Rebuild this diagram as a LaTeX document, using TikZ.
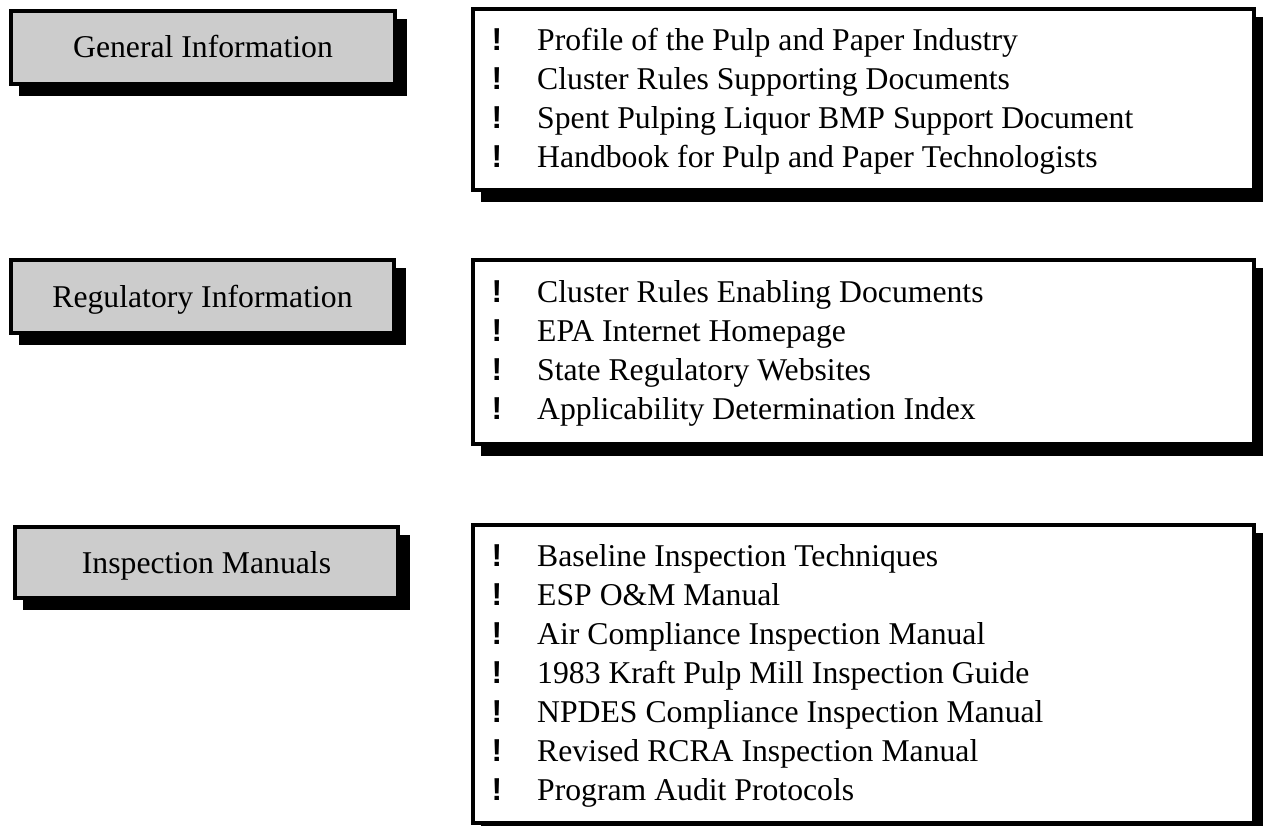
\documentclass[tikz,border=0pt]{standalone}
\usepackage{fontspec}
\setmainfont{Liberation Serif}
\newfontfamily\bulletfont{Liberation Sans}
\usetikzlibrary{backgrounds}
\definecolor{boxgray}{HTML}{CCCCCC}
\begin{document}
\begin{tikzpicture}[x=1pt,y=-1pt,
  every node/.style={font=\fontsize{31.7}{38}\selectfont},
  catbox/.style={draw=black, line width=4pt, fill=boxgray, inner sep=0pt,
    text height=21pt, text depth=0pt},
  listbox/.style={draw=black, line width=4pt, fill=white, inner sep=0pt},
  bul/.style={anchor=base, inner sep=0pt, font=\fontsize{31.7}{38}\selectfont\bulletfont\bfseries},
  item/.style={anchor=base west, inner sep=0pt},
  shadowfill/.style={fill=black}
]
\useasboundingbox (0,0) rectangle (1263,826);

% category boxes
\node[catbox, minimum width=384pt, minimum height=73pt] (g) at (203,47.5) {General Information};
\node[catbox, minimum width=383pt, minimum height=73pt] (r) at (202.5,296.5) {Regulatory Information};
\node[catbox, minimum width=383pt, minimum height=71pt] (i) at (206.5,562.5) {Inspection Manuals};

% list boxes
\node[listbox, minimum width=781pt, minimum height=181pt] (ga) at (863.5,99.5) {};
\node[listbox, minimum width=781pt, minimum height=184pt] (rb) at (863.5,352) {};
\node[listbox, minimum width=781pt, minimum height=298pt] (ic) at (863.5,674) {};

\begin{scope}[on background layer]
  \foreach \b in {g,r,i,ga,rb,ic}{
    \fill[shadowfill] ([shift={(10,10)}]\b.north west) rectangle ([shift={(10,10)}]\b.south east);
  }
\end{scope}

% General information items
\foreach \y/\t [count=\k] in {50.5/Profile of the Pulp and Paper Industry,
  89.5/Cluster Rules Supporting Documents,
  128.5/Spent Pulping Liquor BMP Support Document,
  167.5/Handbook for Pulp and Paper Technologists}{
  \node[bul] (gb\k) at (497,\y) {!};
  \node[item] (gt\k) at (537,\y) {\t};
}

% Regulatory items
\foreach \y/\t [count=\k] in {302.5/Cluster Rules Enabling Documents,
  341.5/EPA Internet Homepage,
  380.5/State Regulatory Websites,
  419.5/Applicability Determination Index}{
  \node[bul] (rb\k) at (497,\y) {!};
  \node[item] (rt\k) at (537,\y) {\t};
}

% Inspection items
\foreach \y/\t [count=\k] in {566.5/Baseline Inspection Techniques,
  605.5/ESP O\&M Manual,
  644.5/Air Compliance Inspection Manual,
  683.5/1983 Kraft Pulp Mill Inspection Guide,
  722.5/NPDES Compliance Inspection Manual,
  761.5/Revised RCRA Inspection Manual,
  800.5/Program Audit Protocols}{
  \node[bul] (ib\k) at (497,\y) {!};
  \node[item] (it\k) at (537,\y) {\t};
}
\end{tikzpicture}
\end{document}
